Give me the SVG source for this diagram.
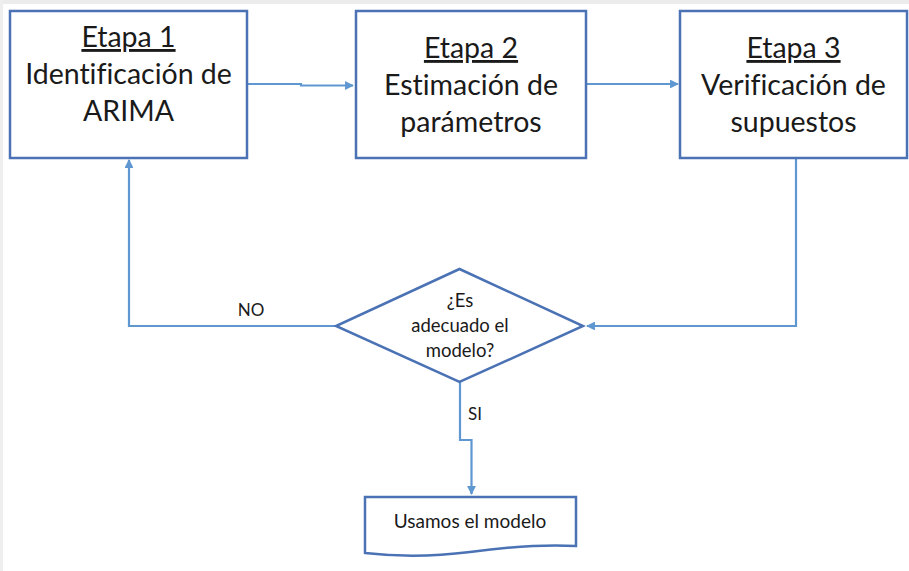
<svg xmlns="http://www.w3.org/2000/svg" width="909" height="571" viewBox="0 0 909 571">
<defs>
<style>
.box{fill:#ffffff;stroke:#4a72b4;stroke-width:2.5}
.con{fill:none;stroke:#5f97d0;stroke-width:2.2}
text{font-family:Lato,"Open Sans","Liberation Sans",sans-serif;fill:#1a1a1a;text-anchor:middle;font-variant-ligatures:none}
.big{font-size:28.5px}
.sm{font-size:18.5px}
.doc{font-size:19px}
.lbl{font-size:17px}
</style>
<marker id="arr" viewBox="0 0 10 10" refX="9" refY="5" markerWidth="4" markerHeight="4" orient="auto" markerUnits="strokeWidth">
<path d="M0,0 L10,5 L0,10 z" fill="#5f97d0"/>
</marker>
</defs>
<rect x="0" y="0" width="909" height="571" fill="#ffffff"/>
<rect x="0" y="0" width="909" height="4" fill="#ececec"/>
<rect x="0" y="0" width="3" height="571" fill="#eeeeee"/>

<g id="connectors">
<path class="con" d="M247,84 H301 V85.5 H353" marker-end="url(#arr)"/>
<path class="con" d="M586,84 H678" marker-end="url(#arr)"/>
<path class="con" d="M796,158 V326 H587" marker-end="url(#arr)"/>
<path class="con" d="M336,326 H129 V160" marker-end="url(#arr)"/>
<path class="con" d="M460,382 V440 H471.5 V494" marker-end="url(#arr)"/>
<text class="lbl" x="251" y="316">NO</text>
<text class="lbl" x="475" y="420">SI</text>
</g>

<g id="etapa1">
<rect class="box" x="10" y="11" width="237" height="147"/>
<text class="big" x="128.5" y="47" text-decoration="underline">Etapa 1</text>
<text class="big" x="128.5" y="84">Identificación de</text>
<text class="big" x="128.5" y="121">ARIMA</text>
</g>

<g id="etapa2">
<rect class="box" x="356" y="11" width="230" height="147"/>
<text class="big" x="471" y="58" text-decoration="underline">Etapa 2</text>
<text class="big" x="471" y="95">Estimación de</text>
<text class="big" x="471" y="132">parámetros</text>
</g>

<g id="etapa3">
<rect class="box" x="680" y="11" width="227" height="147"/>
<text class="big" x="793.5" y="58" text-decoration="underline">Etapa 3</text>
<text class="big" x="793.5" y="95">Verificación de</text>
<text class="big" x="793.5" y="132">supuestos</text>
</g>

<g id="decision">
<polygon class="box" points="459.5,269 583,326 459.5,382 336,326"/>
<text class="sm" x="460" y="307">¿Es</text>
<text class="sm" x="460" y="332">adecuado el</text>
<text class="sm" x="460" y="357">modelo?</text>
</g>

<g id="usamos">
<path class="box" d="M365,497 H576 V546 C545,544 515,546 470,552 C430,557 400,557 365,553 Z"/>
<text class="doc" x="470" y="528">Usamos el modelo</text>
</g>
</svg>
